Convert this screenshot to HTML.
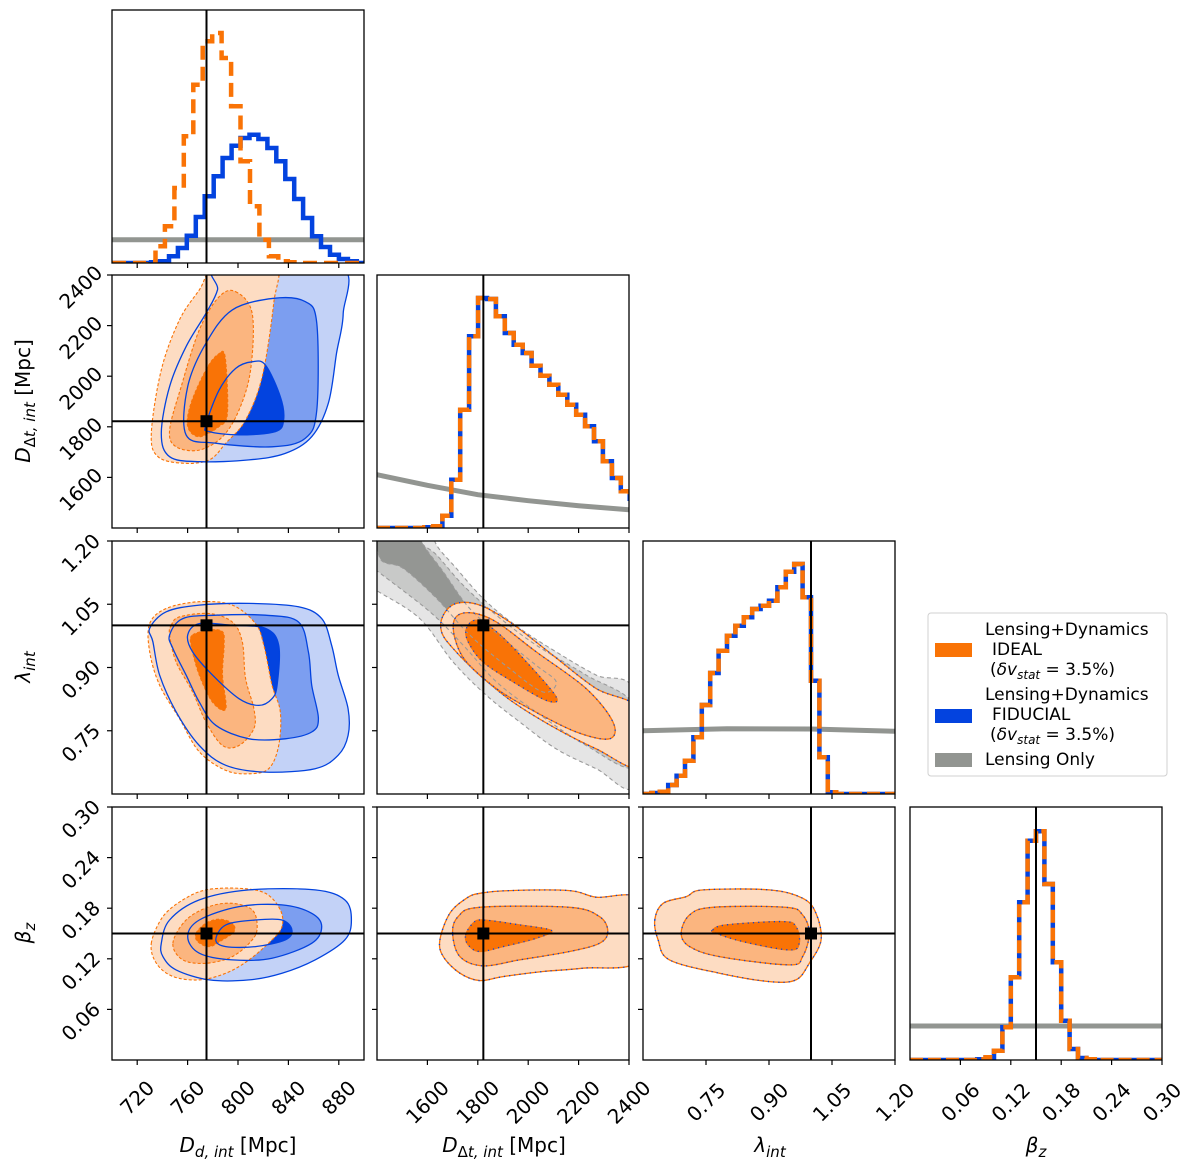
<!DOCTYPE html>
<html><head><meta charset="utf-8"><title>Corner plot</title>
<style>
html,body{margin:0;padding:0;background:#fff;}
svg{display:block;font-family:"DejaVu Sans","Liberation Sans",sans-serif;}
</style></head>
<body>
<svg id="chart" width="1200" height="1173" viewBox="0 0 1200 1173" xmlns="http://www.w3.org/2000/svg">
<defs id="defs"></defs>
<g id="legend">
<rect x="928" y="613" width="239" height="163" rx="3" fill="#fff" stroke="#d0d0d0" stroke-width="1"/>
<rect x="935" y="643" width="37" height="14" fill="#f97306"/>
<rect x="935" y="709" width="37" height="14" fill="#0343df"/>
<rect x="935" y="753" width="37" height="14" fill="#929591"/>
<g font-size="17" fill="#000">
<text x="985" y="635">Lensing+Dynamics</text>
<text x="992" y="655">IDEAL</text>
<text x="990" y="675">(<tspan font-style="italic">δv</tspan><tspan font-style="italic" font-size="12" dy="4">stat</tspan><tspan dy="-4"> = 3.5%)</tspan></text>
<text x="985" y="700">Lensing+Dynamics</text>
<text x="992" y="720">FIDUCIAL</text>
<text x="990" y="740">(<tspan font-style="italic">δv</tspan><tspan font-style="italic" font-size="12" dy="4">stat</tspan><tspan dy="-4"> = 3.5%)</tspan></text>
<text x="985" y="765">Lensing Only</text>
</g>
</g>
<g font-size="20" fill="#000" text-anchor="middle">
<text x="238" y="1152"><tspan font-style="italic">D</tspan><tspan font-style="italic" font-size="15" dy="5">d, int</tspan><tspan dy="-5"> [Mpc]</tspan></text>
<text x="504" y="1152"><tspan font-style="italic">D</tspan><tspan font-size="15" dy="5">Δ</tspan><tspan font-style="italic" font-size="15">t, int</tspan><tspan dy="-5"> [Mpc]</tspan></text>
<text x="770" y="1152"><tspan font-style="italic">λ</tspan><tspan font-style="italic" font-size="15" dy="5">int</tspan></text>
<text x="1036" y="1152"><tspan font-style="italic">β</tspan><tspan font-style="italic" font-size="15" dy="5">z</tspan></text>
<text transform="translate(30,401) rotate(-90)"><tspan font-style="italic">D</tspan><tspan font-size="15" dy="5">Δ</tspan><tspan font-style="italic" font-size="15">t, int</tspan><tspan dy="-5"> [Mpc]</tspan></text>
<text transform="translate(30,667) rotate(-90)"><tspan font-style="italic">λ</tspan><tspan font-style="italic" font-size="15" dy="5">int</tspan></text>
<text transform="translate(30,933) rotate(-90)"><tspan font-style="italic">β</tspan><tspan font-style="italic" font-size="15" dy="5">z</tspan></text>
</g>
</svg>
<script>
// ---------- data ----------
const rangeDd=[700,900];
const rangeDt=[1400,2400];
const rangeLam=[0.6,1.2];
const rangeBz=[0,0.3];
const truth=[775,1822,1.0,0.15];

const ddTicks=[720,760,800,840,880];
const ddTickLabels=['720','760','800','840','880'];
const dtTicks=[1600,1800,2000,2200,2400];
const dtTickLabels=['1600','1800','2000','2200','2400'];
const lamTicks=[0.75,0.90,1.05,1.20];
const lamTickLabels=['0.75','0.90','1.05','1.20'];
const bzTicks=[0.06,0.12,0.18,0.24,0.30];
const bzTickLabels=['0.06','0.12','0.18','0.24','0.30'];

// histograms (bin start, bin width, heights)
const ddIdealStart=727, ddIdealWidth=7.5;
const ddIdeal=[3,50,110,225,380,535,665,690,615,470,305,170,70,20,5,2,0];
const ddFidStart=731, ddFidWidth=7.1;
const ddFid=[2,5,20,45,82,138,200,260,315,352,375,385,372,345,305,252,192,135,80,48,25,12,5];
const dtStart=1411.6, dtWidth=35.4;
const dtHist=[0,0,0,0,0,2,5,37,145,355,575,690,687,635,585,550,525,487,457,430,400,370,340,305,260,200,150,110,88];
const lamStart=0.6, lamWidth=0.02;
const lamHist=[0,3,7,27,55,100,170,267,363,430,475,505,530,555,565,580,620,667,690,590,340,110,5,0,0,0,0,0,0,0];
const bzStart=0, bzWidth=0.01;
const bzHist=[0,0,0,0,0,0,0,0,2,8,28,98,248,473,658,686,528,293,118,33,6,2,0,0,0,0,0,0,0,0];
// lensing-only marginals
const grayDdX=[700,900];
const grayDd=[70,70];
const grayDtX=[1400,1600,1800,2000,2200,2400];
const grayDt=[160,128,100,82,67,55];
const grayLamX=[0.6,0.8,1.0,1.2];
const grayLam=[190,196,195,188];
const grayBzX=[0,0.3];
const grayBz=[102,102];

// contours (data coordinates)
const ideal10Out=[[783.7,2440],[769.3,2341],[753.5,2222],[739.1,2025],[731.2,1774],[736.5,1682],[756.2,1656],[777.2,1669],[790.3,1735],[806,1827],[819.2,1998],[828.3,2288],[829.1,2440]];
const ideal10Mid=[[798.2,2334],[811.3,2248],[810,2025],[800.8,1866],[787.7,1761],[769.3,1708],[750.9,1721],[745.7,1787],[754.9,1959],[769.3,2183],[785,2314]];
const ideal10In=[[783.7,2084],[789.8,2077],[791.6,1853],[785,1801],[769.3,1761],[760.1,1801],[762.7,1893],[774.5,2025]];
const fid10Out=[[879.5,2440],[883.5,2248],[878.2,2090],[871.7,1893],[858.5,1761],[837.5,1695],[808.7,1669],[769.3,1662],[745.7,1682],[739.1,1774],[745.7,1959],[758.8,2117],[774.5,2248],[783.7,2341],[785,2440]];
const fid10Mid=[[828.3,2308],[853.3,2295],[862.5,2209],[862.5,1866],[853.3,1754],[827,1721],[782.4,1735],[758.8,1768],[760.1,1959],[774.5,2130],[795.5,2262]];
const fid10In=[[811.3,2057],[821.8,2044],[833.6,1919],[836.2,1827],[829.7,1781],[800.8,1768],[777.2,1781],[774.5,1807],[785,1945],[798.2,2031]];

const ideal20Out=[[729.9,1.004],[743,1.04],[769.3,1.056],[795.5,1.048],[813.9,1.004],[820.5,0.953],[827,0.858],[833.6,0.795],[832.3,0.715],[824.4,0.66],[808.7,0.648],[790.3,0.656],[769.3,0.7],[753.5,0.779],[737.8,0.858],[729.9,0.937]];
const ideal20Mid=[[747,1.0],[753.5,1.02],[777.2,1.028],[795.5,1.008],[803.4,0.961],[806,0.874],[812.6,0.802],[812.6,0.755],[800.8,0.715],[787.7,0.715],[774.5,0.771],[764,0.842],[750.9,0.913],[745.7,0.977]];
const ideal20In=[[764,0.977],[777.2,0.989],[787.7,0.985],[789,0.953],[787.7,0.882],[790.3,0.802],[779.8,0.818],[769.3,0.882],[762.7,0.953]];
const fid20Out=[[729.9,0.993],[743,1.032],[769.3,1.048],[808.7,1.052],[848,1.044],[866.4,1.016],[874.3,0.953],[879.5,0.882],[887.4,0.802],[887.4,0.739],[879.5,0.692],[861.2,0.66],[821.8,0.652],[790.3,0.668],[769.3,0.715],[750.9,0.795],[737.8,0.882],[732.5,0.961]];
const fid20Mid=[[745.7,0.977],[756.2,1.016],[782.4,1.024],[821.8,1.024],[848,1.008],[855.9,0.937],[858.5,0.858],[863.8,0.779],[858.5,0.747],[837.5,0.731],[808.7,0.731],[782.4,0.763],[769.3,0.818],[758.8,0.882],[748.3,0.945]];
const fid20In=[[760.1,0.977],[769.3,1.004],[795.5,1.0],[821.8,0.993],[832.3,0.953],[831,0.858],[827,0.826],[816.5,0.81],[800.8,0.826],[779.8,0.882],[764,0.937]];

const ideal30Out=[[731.2,0.1384],[740.4,0.170],[756.2,0.1898],[774.5,0.2017],[800.8,0.2036],[821.8,0.1977],[833.6,0.178],[834.9,0.1582],[827,0.1424],[808.7,0.1187],[790.3,0.1029],[769.3,0.095],[748.3,0.099],[735.2,0.1147]];
const ideal30Mid=[[748.3,0.1384],[758.8,0.166],[777.2,0.1819],[795.5,0.1858],[811.3,0.178],[815.2,0.1582],[811.3,0.1424],[795.5,0.1226],[774.5,0.1147],[756.2,0.1187]];
const ideal30In=[[766.7,0.1503],[774.5,0.1621],[785,0.1669],[795.5,0.1621],[796.9,0.1523],[787.7,0.1424],[777.2,0.1345],[768,0.1404]];
const fid30Out=[[739.1,0.1384],[745.7,0.166],[769.3,0.1898],[808.7,0.2017],[861.2,0.2017],[884.8,0.1898],[890,0.166],[884.8,0.1424],[861.2,0.1187],[834.9,0.1029],[808.7,0.095],[777.2,0.095],[750.9,0.1068],[740.4,0.1226]];
const fid30Mid=[[760.1,0.1463],[769.3,0.166],[800.8,0.1819],[834.9,0.1839],[858.5,0.174],[866.4,0.1582],[858.5,0.1384],[827,0.1207],[795.5,0.1187],[769.3,0.1266]];
const fid30In=[[782.4,0.1424],[790.3,0.1602],[813.9,0.166],[834.9,0.166],[842.8,0.1542],[837.5,0.1424],[813.9,0.1345],[790.3,0.1345]];

const lens21Out=[[1380,1.25],[1640,1.25],[1630,1.198],[1715,1.135],[1834,1.056],[1966,0.993],[2111,0.937],[2270,0.882],[2420,0.845],[2420,0.62],[2270,0.66],[2111,0.707],[1966,0.771],[1834,0.834],[1702,0.913],[1570,1.016],[1405,1.08],[1380,1.09]];
const lens21Mid=[[1380,1.25],[1575,1.25],[1570,1.2],[1636,1.167],[1742,1.095],[1874,1.024],[2032,0.953],[2230,0.882],[2420,0.81],[2420,0.665],[2230,0.715],[2032,0.794],[1874,0.866],[1742,0.953],[1610,1.032],[1405,1.127],[1380,1.14]];
const lens21In=[[1412,1.25],[1580,1.25],[1577,1.2],[1663,1.127],[1768,1.04],[1900,0.969],[2032,0.905],[2111,0.866],[2059,0.842],[1927,0.897],[1768,0.977],[1636,1.064],[1504,1.135],[1412,1.159]];
const ideal21Out=[[1663,1.024],[1715,1.052],[1808,1.048],[1927,1.008],[2098,0.929],[2270,0.85],[2440,0.80],[2440,0.665],[2270,0.707],[2111,0.755],[1940,0.818],[1808,0.882],[1702,0.945],[1656,0.985]];
const ideal21Mid=[[1709,1.016],[1768,1.03],[1874,1.008],[2032,0.937],[2230,0.85],[2336,0.771],[2323,0.731],[2191,0.747],[2006,0.802],[1874,0.85],[1755,0.913],[1709,0.969]];
const ideal21In=[[1755,0.993],[1795,1.012],[1874,0.985],[1993,0.913],[2111,0.83],[2072,0.822],[1940,0.866],[1821,0.913],[1762,0.961]];

const ideal31Out=[[1649.5,0.1424],[1689,0.174],[1755,0.1918],[1808,0.1977],[1927,0.2009],[2164,0.2009],[2270,0.193],[2440,0.19],[2440,0.118],[2217,0.1088],[2059,0.1049],[1900,0.0989],[1808,0.0942],[1729,0.1029],[1663,0.1226]];
const ideal31Mid=[[1700,0.1503],[1722,0.17],[1808,0.1811],[2164,0.1811],[2283,0.17],[2316,0.1523],[2283,0.1384],[2164,0.1286],[1966,0.1187],[1821,0.1116],[1729,0.1226]];
const ideal31In=[[1752,0.1483],[1781,0.1621],[1821,0.166],[1966,0.1602],[2092,0.1535],[2032,0.1444],[1900,0.1345],[1808,0.1286],[1762,0.1365]];

const ideal32Out=[[0.628,0.166],[0.648,0.1858],[0.703,0.1937],[0.743,0.2017],[0.901,0.2017],[0.98,0.1918],[1.012,0.174],[1.024,0.1424],[0.996,0.1147],[0.964,0.095],[0.901,0.093],[0.782,0.1029],[0.663,0.1187],[0.636,0.1424]];
const ideal32Mid=[[0.691,0.1503],[0.711,0.172],[0.766,0.1811],[0.94,0.1811],[0.98,0.172],[0.996,0.1503],[0.98,0.1226],[0.948,0.1128],[0.782,0.1226],[0.711,0.1345]];
const ideal32In=[[0.766,0.1542],[0.798,0.1602],[0.933,0.1641],[0.964,0.1582],[0.972,0.1384],[0.948,0.1305],[0.838,0.1404],[0.774,0.1503]];

// ---------- geometry ----------
const NS='http://www.w3.org/2000/svg';
const svg=document.getElementById('chart');
const defs=document.getElementById('defs');
const L=[112,377,643,910], T=[10,275,541,807], W=252, H=253;
const R=[rangeDd,rangeDt,rangeLam,rangeBz];
const HS=3;
function sx(c,v){return L[c]+(v-R[c][0])/(R[c][1]-R[c][0])*W;}
function sy(r,v){return T[r]+H-(v-R[r][0])/(R[r][1]-R[r][0])*H;}
function hy(r,h){return T[r]+H-h/HS;}
function mk(tag,attrs,parent){const e=document.createElementNS(NS,tag);for(const k in attrs)e.setAttribute(k,attrs[k]);(parent||svg).appendChild(e);return e;}

const layers={};
for(let r=0;r<4;r++)for(let c=0;c<=r;c++){
  const cp=mk('clipPath',{id:'clip'+r+c},defs);
  mk('rect',{x:L[c],y:T[r],width:W,height:H},cp);
  const g=mk('g',{'clip-path':'url(#clip'+r+c+')'});
  
  
  layers[r+''+c]=g;
}

function smooth(pts){
  const n=pts.length;let d='M'+pts[0][0].toFixed(1)+','+pts[0][1].toFixed(1);
  for(let i=0;i<n;i++){
    const p0=pts[(i-1+n)%n],p1=pts[i],p2=pts[(i+1)%n],p3=pts[(i+2)%n];
    const c1=[p1[0]+(p2[0]-p0[0])/6,p1[1]+(p2[1]-p0[1])/6];
    const c2=[p2[0]-(p3[0]-p1[0])/6,p2[1]-(p3[1]-p1[1])/6];
    d+=' C'+c1[0].toFixed(1)+','+c1[1].toFixed(1)+' '+c2[0].toFixed(1)+','+c2[1].toFixed(1)+' '+p2[0].toFixed(1)+','+p2[1].toFixed(1);
  }
  return d+'Z';
}
function contour(r,c,data,attrs,name){
  const pts=data.map(p=>[sx(c,p[0]),sy(r,p[1])]);
  const a=Object.assign({d:smooth(pts)},attrs);
  const e=mk('path',a,layers[r+''+c]);
  
  
  return e;
}
function hist(r,start,w,vals,attrs,name){
  const c=r;let d='M'+L[c]+','+(T[r]+H)+' H'+sx(c,start).toFixed(1);
  for(let i=0;i<vals.length;i++){
    d+=' V'+hy(r,vals[i]).toFixed(1)+' H'+sx(c,start+(i+1)*w).toFixed(1);
  }
  d+=' V'+(T[r]+H)+' H'+(L[c]+W);
  const e=mk('path',Object.assign({d:d,fill:'none'},attrs),layers[r+''+c]);
  
  
  return e;
}
function grayLine(r,xs,vals,name){
  const d=xs.map((x,i)=>(i?'L':'M')+sx(r,x).toFixed(1)+','+hy(r,vals[i]).toFixed(1)).join(' ');
  const e=mk('path',{d:d,fill:'none',stroke:'#929591','stroke-width':5},layers[r+''+r]);
  
  
}

const OL='#fddcc2',OM='#fbb57f',OD='#f97306',BL='#c3d2f7',BM='#7c9ef0',BD='#0343df';
function bothPanel(r,c,fo,fm,fi,oo,om,oi,tag){
  contour(r,c,fo,{fill:BL},'fiducial-outer-fill-'+tag);
  contour(r,c,fm,{fill:BM},'fiducial-mid-fill-'+tag);
  contour(r,c,fi,{fill:BD},'fiducial-inner-fill-'+tag);
  contour(r,c,oo,{fill:OL},'ideal-outer-fill-'+tag);
  contour(r,c,om,{fill:OM},'ideal-mid-fill-'+tag);
  contour(r,c,oi,{fill:OD},'ideal-inner-fill-'+tag);
  [oo,om,oi].forEach((p,i)=>contour(r,c,p,{fill:'none',stroke:OD,'stroke-width':1.1,'stroke-dasharray':'3 2'},'ideal-contour-line-'+tag+'-'+i));
  [fo,fm,fi].forEach((p,i)=>contour(r,c,p,{fill:'none',stroke:BD,'stroke-width':1.3},'fiducial-contour-line-'+tag+'-'+i));
}
bothPanel(1,0,fid10Out,fid10Mid,fid10In,ideal10Out,ideal10Mid,ideal10In,'dd-ddt');
bothPanel(2,0,fid20Out,fid20Mid,fid20In,ideal20Out,ideal20Mid,ideal20In,'dd-lambda');
bothPanel(3,0,fid30Out,fid30Mid,fid30In,ideal30Out,ideal30Mid,ideal30In,'dd-beta');

function idealPanel(r,c,oo,om,oi,tag){
  contour(r,c,oo,{fill:OL},'ideal-outer-fill-'+tag);
  contour(r,c,om,{fill:OM},'ideal-mid-fill-'+tag);
  contour(r,c,oi,{fill:OD},'ideal-inner-fill-'+tag);
}
function idealLines(r,c,oo,om,oi,tag){
  [oo,om,oi].forEach((p,i)=>{
    contour(r,c,p,{fill:'none',stroke:OD,'stroke-width':1.3},'ideal-contour-line-'+tag+'-'+i);
    contour(r,c,p,{fill:'none',stroke:BD,'stroke-width':1.3,'stroke-dasharray':'1.2 4'},'fiducial-contour-line-'+tag+'-'+i);
  });
}
contour(2,1,lens21Out,{fill:'#e5e5e5'},'lensing-outer-fill');
contour(2,1,lens21Mid,{fill:'#c8c9c8'},'lensing-mid-fill');
contour(2,1,lens21In,{fill:'#949693'},'lensing-inner-fill');
idealPanel(2,1,ideal21Out,ideal21Mid,ideal21In,'ddt-lambda');
[lens21Out,lens21Mid,lens21In].forEach((p,i)=>contour(2,1,p,{fill:'none',stroke:'#9a9a9a','stroke-width':1.1,'stroke-dasharray':'4 3'},'lensing-contour-line-'+i));
idealLines(2,1,ideal21Out,ideal21Mid,ideal21In,'ddt-lambda');
idealPanel(3,1,ideal31Out,ideal31Mid,ideal31In,'ddt-beta');
idealLines(3,1,ideal31Out,ideal31Mid,ideal31In,'ddt-beta');
idealPanel(3,2,ideal32Out,ideal32Mid,ideal32In,'lambda-beta');
idealLines(3,2,ideal32Out,ideal32Mid,ideal32In,'lambda-beta');

// ---- histograms ----
grayLine(0,grayDdX,grayDd,'hist-dd-lensing-only');
hist(0,ddFidStart,ddFidWidth,ddFid,{stroke:BD,'stroke-width':4.5},'hist-dd-fiducial');
hist(0,ddIdealStart,ddIdealWidth,ddIdeal,{stroke:OD,'stroke-width':4.5,'stroke-dasharray':'14 7'},'hist-dd-ideal');
grayLine(1,grayDtX,grayDt,'hist-ddt-lensing-only');
hist(1,dtStart,dtWidth,dtHist,{stroke:BD,'stroke-width':4.5},'hist-ddt-fiducial');
hist(1,dtStart,dtWidth,dtHist,{stroke:OD,'stroke-width':4.5,'stroke-dasharray':'13 5'},'hist-ddt-ideal');
grayLine(2,grayLamX,grayLam,'hist-lambda-lensing-only');
hist(2,lamStart,lamWidth,lamHist,{stroke:BD,'stroke-width':4.5},'hist-lambda-fiducial');
hist(2,lamStart,lamWidth,lamHist,{stroke:OD,'stroke-width':4.5,'stroke-dasharray':'13 5'},'hist-lambda-ideal');
grayLine(3,grayBzX,grayBz,'hist-beta-lensing-only');
hist(3,bzStart,bzWidth,bzHist,{stroke:BD,'stroke-width':4.5},'hist-beta-fiducial');
hist(3,bzStart,bzWidth,bzHist,{stroke:OD,'stroke-width':4.5,'stroke-dasharray':'13 5'},'hist-beta-ideal');

// ---- truth lines & markers ----
for(let r=0;r<4;r++)for(let c=0;c<=r;c++){
  const g=layers[r+''+c];
  const x=sx(c,truth[c]);
  const v=mk('line',{x1:x,x2:x,y1:T[r],y2:T[r]+H,stroke:'#000','stroke-width':2},g);
  
  
  if(c<r){
    const y=sy(r,truth[r]);
    const h=mk('line',{x1:L[c],x2:L[c]+W,y1:y,y2:y,stroke:'#000','stroke-width':2},g);
    
    
    const s=mk('rect',{x:x-6,y:y-6,width:12,height:12,fill:'#000'},g);
    
    
  }
}

// ---- frames, ticks, labels ----
const tickVals=[ddTicks,dtTicks,lamTicks,bzTicks];
const tickLabs=[ddTickLabels,dtTickLabels,lamTickLabels,bzTickLabels];
const FS=20;
function labelBox(s){return (s.length*FS*0.636+FS*0.73)*0.707;}
for(let r=0;r<4;r++)for(let c=0;c<=r;c++){
  const fr=mk('rect',{x:L[c],y:T[r],width:W,height:H,fill:'none',stroke:'#000','stroke-width':1.3});
  
  
  const bot=T[r]+H;
  tickVals[c].forEach((v,i)=>{
    const x=sx(c,v);
    const t=mk('line',{x1:x,x2:x,y1:bot,y2:bot+5,stroke:'#000','stroke-width':1.2});
    
    
    if(r===3){
      const s=tickLabs[c][i];const cy=bot+19+labelBox(s)/2;
      const tx=mk('text',{x:x,y:cy,'text-anchor':'middle',dy:'0.35em','font-size':FS,transform:'rotate(-45 '+x+' '+cy+')'});
      tx.textContent=s;
      
      
    }
  });
  if(c<r){
    tickVals[r].forEach((v,i)=>{
      const y=sy(r,v);
      const t=mk('line',{x1:L[c]-5,x2:L[c],y1:y,y2:y,stroke:'#000','stroke-width':1.2});
      
      
      if(c===0){
        const s=tickLabs[r][i];const cx=L[0]-8-labelBox(s)/2;const cy=y+12;
        const tx=mk('text',{x:cx,y:cy,'text-anchor':'middle',dy:'0.35em','font-size':FS,transform:'rotate(-45 '+cx+' '+cy+')'});
        tx.textContent=s;
        
        
      }
    });
  }
}
svg.appendChild(document.getElementById('legend'));
</script>
</body></html>
